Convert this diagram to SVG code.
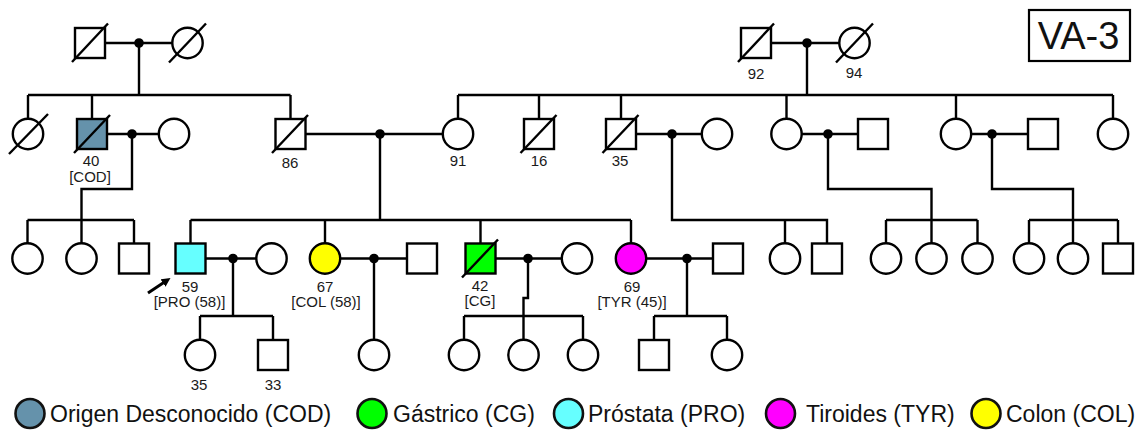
<svg xmlns="http://www.w3.org/2000/svg" width="1139" height="432" viewBox="0 0 1139 432">
<style>
.sh{fill:#fff;stroke:#000;stroke-width:2.4}
.ln{fill:none;stroke:#000;stroke-width:2.4}
.dd{stroke:#000;stroke-width:2.4}
.dot{fill:#000}
.lbl{font-family:"Liberation Sans",Arial,sans-serif;font-size:15px;fill:#1a1a1a;text-anchor:middle}
.leg{font-family:"Liberation Sans",Arial,sans-serif;font-size:23px;fill:#111}
.lc{stroke:#111;stroke-width:2.6}
.cod{fill:#6592AB}.pro{fill:#66FFFF}.cg{fill:#00FF00}.tyr{fill:#FF00FF}.col{fill:#FFFF00}
</style>
<defs>
<marker id="ah" viewBox="0 0 10 10" refX="2" refY="5" markerWidth="9" markerHeight="9" markerUnits="userSpaceOnUse" orient="auto"><path d="M0,0 L10,5 L0,10 z" fill="#000"/></marker>
</defs>
<rect width="1139" height="432" fill="#fff"/>
<g id="connectors" class="ln">
<path d="M90,43 H187.5 M139,43 V95 M28,95 H290.5 M28,95 V134 M92,95 V134 M290.5,95 V134"/>
<path d="M756,43 H854.5 M807,43 V95 M458,95 H1113 M458,95 V134 M539,95 V134 M621,95 V134 M786.5,95 V134 M956,95 V134 M1113,95 V134"/>
<path d="M92,134 H174 M132,134 V189 H81.5 V258 M27.5,220 H134 M27.5,220 V258 M134,220 V258"/>
<path d="M290.5,134 H458 M380,134 V220 M190.5,220 H631 M190.5,220 V258 M325,220 V258 M480.5,220 V258 M631,220 V258"/>
<path d="M621,134 H717 M672,134 V220 H827 V258 M785,220 V258"/>
<path d="M786.5,134 H873 M828,134 V189 H931.5 V258 M886,220 H977.5 M886,220 V258 M977.5,220 V258"/>
<path d="M956,134 H1043 M992,134 V189 H1073 V258 M1029,220 H1118 M1029,220 V258 M1118,220 V258"/>
<path d="M190.5,258.5 H271.5 M233,258.5 V316 M200,316 H273 M200,316 V355 M273,316 V355"/>
<path d="M325,258.5 H422 M374,258.5 V355"/>
<path d="M480.5,258.5 H577 M528,258.5 V298 H523.5 V355 M464,316 H583 M464,316 V355 M583,316 V355"/>
<path d="M631,258.5 H728 M687,258.5 V316 M654,316 H727 M654,316 V355 M727,316 V355"/>
<g class="dot">
<circle cx="139" cy="43" r="3.6"/><circle cx="807" cy="43" r="3.6"/>
<circle cx="132" cy="134" r="3.6"/><circle cx="380" cy="134" r="3.6"/><circle cx="672" cy="134" r="3.6"/><circle cx="828" cy="134" r="3.6"/><circle cx="992" cy="134" r="3.6"/>
<circle cx="233" cy="258.5" r="3.6"/><circle cx="374" cy="258.5" r="3.6"/><circle cx="528" cy="258.5" r="3.6"/><circle cx="687" cy="258.5" r="3.6"/>
</g>
</g>
<!-- Generation I -->
<g id="I-1"><rect class="sh" x="75" y="28" width="30" height="30"/><line class="dd" x1="72" y1="62" x2="108" y2="23.5"/></g>
<g id="I-2"><circle class="sh" cx="187.5" cy="43" r="15.2"/><line class="dd" x1="169" y1="62.5" x2="206" y2="23.5"/></g>
<g id="I-3"><rect class="sh" x="741" y="28" width="30" height="30"/><line class="dd" x1="738" y1="62" x2="774" y2="23.5"/><text class="lbl" x="756" y="79">92</text></g>
<g id="I-4"><circle class="sh" cx="854.5" cy="43" r="15.2"/><line class="dd" x1="836" y1="62.5" x2="873" y2="23.5"/><text class="lbl" x="854" y="78">94</text></g>
<!-- Generation II -->
<g id="II-1"><circle class="sh" cx="28" cy="134" r="15.2"/><line class="dd" x1="9" y1="154" x2="48" y2="114"/></g>
<g id="II-2"><rect class="sh cod" x="77" y="119" width="30" height="30"/><line class="dd" x1="74" y1="153" x2="110" y2="115"/><text class="lbl" x="91" y="166">40</text><text class="lbl" x="90" y="182">[COD]</text></g>
<g id="II-3"><circle class="sh" cx="174" cy="134" r="15.2"/></g>
<g id="II-4"><rect class="sh" x="275.5" y="119" width="30" height="30"/><line class="dd" x1="272" y1="153" x2="308" y2="115"/><text class="lbl" x="290" y="168">86</text></g>
<g id="II-5"><circle class="sh" cx="458" cy="134" r="15.2"/><text class="lbl" x="458" y="166">91</text></g>
<g id="II-6"><rect class="sh" x="524" y="119" width="30" height="30"/><line class="dd" x1="520.5" y1="153" x2="556.5" y2="115"/><text class="lbl" x="539" y="166">16</text></g>
<g id="II-7"><rect class="sh" x="606" y="119" width="30" height="30"/><line class="dd" x1="602.5" y1="153" x2="638.5" y2="115"/><text class="lbl" x="620" y="166">35</text></g>
<g id="II-8"><circle class="sh" cx="717" cy="134" r="15.2"/></g>
<g id="II-9"><circle class="sh" cx="786.5" cy="134" r="15.2"/></g>
<g id="II-10"><rect class="sh" x="858" y="119" width="30" height="30"/></g>
<g id="II-11"><circle class="sh" cx="956" cy="134" r="15.2"/></g>
<g id="II-12"><rect class="sh" x="1028" y="119" width="30" height="30"/></g>
<g id="II-13"><circle class="sh" cx="1113" cy="134" r="15.2"/></g>
<!-- Generation III -->
<g id="III-1"><circle class="sh" cx="27.5" cy="258.5" r="15.2"/></g>
<g id="III-2"><circle class="sh" cx="81.5" cy="258.5" r="15.2"/></g>
<g id="III-3"><rect class="sh" x="119" y="243.5" width="30" height="30"/></g>
<g id="III-4"><rect class="sh pro" x="175.5" y="243.5" width="30" height="30"/><line x1="148" y1="293" x2="164.5" y2="282" stroke="#000" stroke-width="3" marker-end="url(#ah)"/><text class="lbl" x="190" y="292">59</text><text class="lbl" x="189.5" y="307">[PRO (58)]</text></g>
<g id="III-5"><circle class="sh" cx="271.5" cy="258.5" r="15.2"/></g>
<g id="III-6"><circle class="sh col" cx="325" cy="258.5" r="15.2"/><text class="lbl" x="325" y="292">67</text><text class="lbl" x="326" y="307">[COL (58)]</text></g>
<g id="III-7"><rect class="sh" x="407" y="243.5" width="30" height="30"/></g>
<g id="III-8"><rect class="sh cg" x="465.5" y="243.5" width="30" height="30"/><line class="dd" x1="462" y1="277.5" x2="498" y2="239.5"/><text class="lbl" x="480" y="291">42</text><text class="lbl" x="480" y="306">[CG]</text></g>
<g id="III-9"><circle class="sh" cx="577" cy="258.5" r="15.2"/></g>
<g id="III-10"><circle class="sh tyr" cx="631" cy="258.5" r="15.2"/><text class="lbl" x="632" y="292">69</text><text class="lbl" x="632" y="307">[TYR (45)]</text></g>
<g id="III-11"><rect class="sh" x="713" y="243.5" width="30" height="30"/></g>
<g id="III-12"><circle class="sh" cx="785" cy="258.5" r="15.2"/></g>
<g id="III-13"><rect class="sh" x="812" y="243.5" width="30" height="30"/></g>
<g id="III-14"><circle class="sh" cx="886" cy="258.5" r="15.2"/></g>
<g id="III-15"><circle class="sh" cx="931.5" cy="258.5" r="15.2"/></g>
<g id="III-16"><circle class="sh" cx="977.5" cy="258.5" r="15.2"/></g>
<g id="III-17"><circle class="sh" cx="1029" cy="258.5" r="15.2"/></g>
<g id="III-18"><circle class="sh" cx="1073" cy="258.5" r="15.2"/></g>
<g id="III-19"><rect class="sh" x="1103" y="243.5" width="30" height="30"/></g>
<!-- Generation IV -->
<g id="IV-1"><circle class="sh" cx="200" cy="355" r="15.2"/><text class="lbl" x="199" y="390">35</text></g>
<g id="IV-2"><rect class="sh" x="258" y="340" width="30" height="30"/><text class="lbl" x="273" y="390">33</text></g>
<g id="IV-3"><circle class="sh" cx="374" cy="355" r="15.2"/></g>
<g id="IV-4"><circle class="sh" cx="464" cy="355" r="15.2"/></g>
<g id="IV-5"><circle class="sh" cx="523.5" cy="355" r="15.2"/></g>
<g id="IV-6"><circle class="sh" cx="583" cy="355" r="15.2"/></g>
<g id="IV-7"><rect class="sh" x="639" y="340" width="30" height="30"/></g>
<g id="IV-8"><circle class="sh" cx="727" cy="355" r="15.2"/></g>
<!-- Title box -->
<g id="title"><rect x="1029" y="10" width="101" height="51" fill="#fff" stroke="#000" stroke-width="2.2"/><text x="1078.5" y="48.5" font-family="Liberation Sans, Arial, sans-serif" font-size="38" fill="#111" text-anchor="middle">VA-3</text></g>
<!-- Legend -->
<g id="legend">
<circle class="lc cod" cx="30" cy="413.5" r="14.5"/><text class="leg" x="50" y="422">Origen Desconocido (COD)</text>
<circle class="lc cg" cx="372" cy="413.5" r="14.5"/><text class="leg" x="393" y="422">Gástrico (CG)</text>
<circle class="lc pro" cx="568.5" cy="413.5" r="14.5"/><text class="leg" x="588" y="422">Próstata (PRO)</text>
<circle class="lc tyr" cx="780.5" cy="413.5" r="14.5"/><text class="leg" x="806" y="422">Tiroides (TYR)</text>
<circle class="lc col" cx="986" cy="413.5" r="14.5"/><text class="leg" x="1006" y="422">Colon (COL)</text>
</g>
</svg>
